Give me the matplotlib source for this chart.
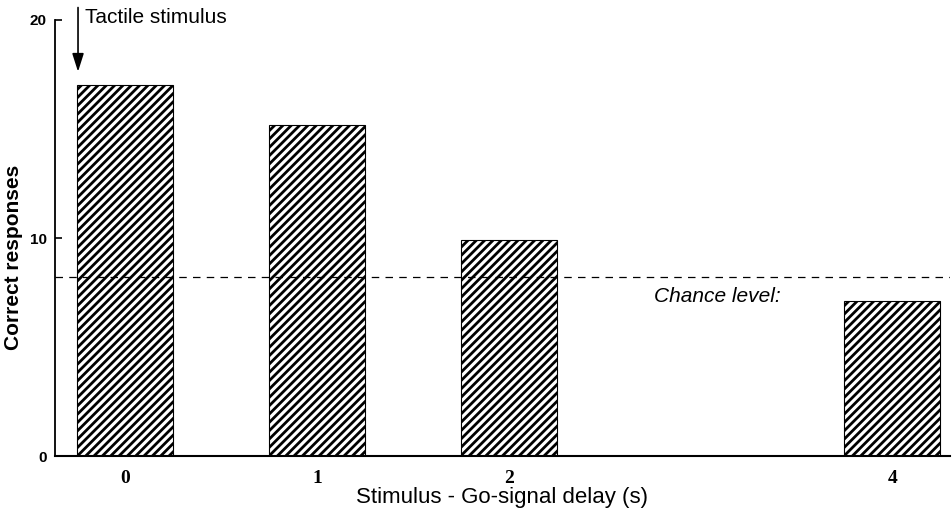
import matplotlib
matplotlib.use("Agg")
import matplotlib.pyplot as plt

delays = [0, 1, 2, 4]
correct = [17.0, 15.2, 9.9, 7.1]
chance = 8.2
yticks = [0, 10, 20]

plt.rcParams['hatch.linewidth'] = 2.0
fig = plt.figure(figsize=(9.52, 5.11), dpi=100)
ax = fig.add_axes([55/952, 55/511, 895/952, 436/511])

ax.bar(delays, correct, width=0.5, color='white', edgecolor='black',
       hatch='////', linewidth=0.8, zorder=2)
ax.axhline(chance, color='black', linestyle=(0, (6, 5)), linewidth=0.9, zorder=3)
ax.text(2.755, 7.3, 'Chance level:', style='italic', fontsize=15,
        family='Liberation Sans', ha='left', va='center')

ax.set_xlim(-0.365, 4.3)
ax.set_ylim(0, 20)
ax.set_xticks(delays)
ax.set_xticklabels([str(d) for d in delays], family='Liberation Serif',
                   fontweight='bold', fontsize=14)
ax.set_yticks(yticks)
ax.set_yticklabels([str(t) for t in yticks], family='Liberation Sans',
                   fontweight='bold', fontsize=11)
ax.tick_params(axis='x', length=0, pad=10)
ax.tick_params(axis='y', direction='in', length=5, width=1.2, pad=6)
for s in ['top', 'right']:
    ax.spines[s].set_visible(False)
ax.spines['left'].set_linewidth(1.3)
ax.spines['bottom'].set_linewidth(1.5)

ax.set_ylabel('Correct responses', family='Liberation Sans', fontweight='bold',
              fontsize=15)
ax.yaxis.set_label_coords(-0.036, 0.456)
ax.set_xlabel('Stimulus - Go-signal delay (s)', family='Liberation Sans',
              fontsize=16, labelpad=0)

ax.annotate('', xy=(-0.245, 17.5), xytext=(-0.245, 20.7),
            arrowprops=dict(arrowstyle='-|>,head_length=1.1,head_width=0.35',
                            color='black', lw=1.2), annotation_clip=False)
ax.text(-0.21, 20.1, 'Tactile stimulus', family='Liberation Sans', fontsize=15,
        ha='left', va='center')

fig.savefig('out.png', dpi=100)
